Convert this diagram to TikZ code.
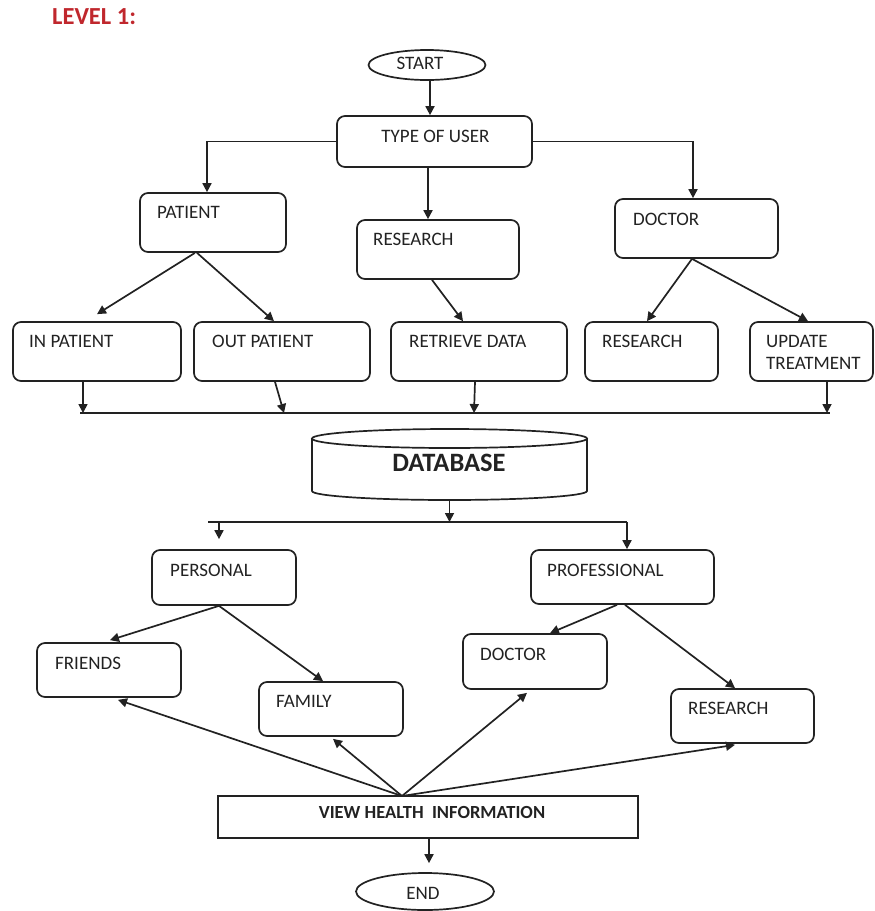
\documentclass[tikz,border=0pt]{standalone}
\usepackage{fontspec}
\setmainfont{Carlito}
\usetikzlibrary{arrows.meta,shapes.geometric}
\definecolor{ink}{HTML}{222222}
\definecolor{lvl}{HTML}{C0272D}
\begin{document}
\begin{tikzpicture}[x=1pt,y=-1pt,
  box/.style={draw=ink, line width=1.7pt, rounded corners=8pt, inner sep=0pt},
  oval/.style={draw=ink, line width=1.7pt, ellipse, inner sep=0pt},
  lbl/.style={text=ink, font=\fontsize{19}{22}\selectfont, inner sep=0pt, anchor=west, align=left},
  arr/.style={draw=ink, line width=1.7pt, -{Triangle[length=9pt,width=9pt]}},
  ln/.style={draw=ink, line width=1.7pt}]
\useasboundingbox (0,0) rectangle (875,911);

% title
\node[font=\bfseries\fontsize{24.5}{28}\selectfont, text=lvl, anchor=west, inner sep=0pt] (level) at (52,16.5) {LEVEL 1:};

% top part
\node[oval, minimum width=117pt, minimum height=30pt] (start) at (427,65) {};
\node[lbl, anchor=center] (startT) at (420,63) {START};
\node[box, minimum width=195pt, minimum height=51pt] (type) at (434.5,141.5) {};
\node[lbl, anchor=center] (typeT) at (435.5,136) {TYPE OF USER};

\node[box, minimum width=146pt, minimum height=59pt] (patient) at (213,222.5) {};
\node[lbl] (patientT) at (157,212.5) {PATIENT};
\node[box, minimum width=162pt, minimum height=59pt] (res1) at (438,249.5) {};
\node[lbl] (res1T) at (373,239) {RESEARCH};
\node[box, minimum width=163pt, minimum height=59pt] (doc1) at (696.5,228.5) {};
\node[lbl] (doc1T) at (633,219) {DOCTOR};

\node[box, minimum width=168pt, minimum height=59pt] (inp) at (97,351.5) {};
\node[lbl] (inpT) at (29,341) {IN PATIENT};
\node[box, minimum width=176pt, minimum height=59pt] (outp) at (282,351.5) {};
\node[lbl] (outpT) at (212,341) {OUT PATIENT};
\node[box, minimum width=176pt, minimum height=59pt] (retr) at (479,351.5) {};
\node[lbl] (retrT) at (409,341) {RETRIEVE DATA};
\node[box, minimum width=133pt, minimum height=59pt] (res2) at (651.5,351.5) {};
\node[lbl] (res2T) at (602,341) {RESEARCH};
\node[box, minimum width=123pt, minimum height=59pt] (upd) at (811.5,351.5) {};
\node[lbl] (updT) at (766,352.5) {UPDATE\\TREATMENT};

% connectors top
\draw[arr] ([xshift=3pt]start.south) -- ([xshift=-4.5pt]type.north);
\draw[arr] (type.west) -| ([xshift=-6pt]patient.north);
\draw[arr] (type.east) -| ([xshift=-3.5pt]doc1.north);
\draw[arr] ([xshift=-6.5pt]type.south) -- ([xshift=-10pt]res1.north);
\draw[arr] ([xshift=-18pt]patient.south) -- ([yshift=7pt]inp.north);
\draw[arr] ([xshift=-16pt]patient.south) -- ([xshift=-8pt]outp.north);
\draw[arr] ([xshift=-6pt]res1.south) -- ([xshift=-16pt]retr.north);
\draw[arr] ([xshift=-4.5pt]doc1.south) -- ([xshift=-4.5pt]res2.north);
\draw[arr] ([xshift=-4.5pt]doc1.south) -- ([xshift=-3.5pt]upd.north);

% bus 1
\coordinate (busL) at (80,413);
\coordinate (busR) at (830,413);
\coordinate (b1) at (83,413);
\coordinate (b2) at (284,413);
\coordinate (b3) at (474,413);
\coordinate (b4) at (827,413);
\draw[ln] (busL) -- (busR);
\draw[arr] ([xshift=-14pt]inp.south) -- (b1);
\draw[arr] ([xshift=-7pt]outp.south) -- (b2);
\draw[arr] ([xshift=-4pt]retr.south) -- (b3);
\draw[arr] ([xshift=15.5pt]upd.south) -- (b4);

% database
\node[inner sep=0pt, minimum width=275pt, minimum height=71pt] (db) at (449.5,464.5) {};
\draw[ln] (312,438.5) -- (312,491) arc[start angle=180, end angle=360, x radius=137.5pt, y radius=9pt] -- (587,438.5);
\draw[ln] (449.5,438.5) ellipse [x radius=137.5pt, y radius=9.5pt];
\node[font=\bfseries\fontsize{26.5}{30}\selectfont, text=ink, inner sep=0pt] (dbT) at (449,463) {DATABASE};

% bus 2
\coordinate (c0) at (449.5,522);
\coordinate (cL) at (208,522);
\coordinate (cR) at (627,522);
\coordinate (cA) at (219,522);
\draw[arr] (db.south) -- (c0);
\draw[ln] (cL) -- (cR);

% lower part
\node[box, minimum width=144pt, minimum height=55pt] (pers) at (224,577.5) {};
\node[lbl] (persT) at (170,570.5) {PERSONAL};
\node[box, minimum width=183pt, minimum height=54pt] (prof) at (622.5,577) {};
\node[lbl] (profT) at (547,570) {PROFESSIONAL};
\node[box, minimum width=144pt, minimum height=54pt] (friends) at (109,670) {};
\node[lbl] (friendsT) at (55,663) {FRIENDS};
\node[box, minimum width=144pt, minimum height=54pt] (family) at (331,709) {};
\node[lbl] (familyT) at (276,701) {FAMILY};
\node[box, minimum width=144pt, minimum height=55pt] (doc2) at (535,661.5) {};
\node[lbl] (doc2T) at (480,654) {DOCTOR};
\node[box, minimum width=143pt, minimum height=54pt] (res3) at (742.5,716) {};
\node[lbl] (res3T) at (688,708) {RESEARCH};

\draw[arr] (cA) -- ([xshift=-5pt,yshift=10pt]pers.north);
\draw[arr] (cR) -- ([xshift=4.5pt]prof.north);

\draw[arr] ([xshift=-5pt]pers.south) -- ([xshift=1pt,yshift=2pt]friends.north);
\draw[arr] ([xshift=-5pt]pers.south) -- ([xshift=-8pt]family.north);
\draw[arr] ([xshift=-5.5pt]prof.south) -- ([xshift=15pt]doc2.north);
\draw[arr] ([xshift=2.5pt]prof.south) -- ([xshift=-7.5pt]res3.north);

% view + end
\node[draw=ink, line width=1.7pt, minimum width=420pt, minimum height=42pt, inner sep=0pt] (view) at (428,817) {};
\node[lbl, anchor=center, font=\bfseries\fontsize{18.5}{22}\selectfont] (viewT) at (432,812) {VIEW~HEALTH~~INFORMATION};
\coordinate (apex) at (402,796);
\draw[arr] (apex) -- ([xshift=9pt,yshift=-2pt]friends.south);
\draw[arr] (apex) -- ([xshift=2pt,yshift=-2pt]family.south);
\draw[arr] (apex) -- ([xshift=-8pt,yshift=-3pt]doc2.south);
\draw[arr] (apex) -- ([xshift=-7.5pt,yshift=-1pt]res3.south);

\node[oval, minimum width=138pt, minimum height=37pt] (end) at (425,891.5) {};
\node[lbl, anchor=center] (endT) at (423,893) {END};
\draw[arr] ([xshift=1pt]view.south) -- ([xshift=4pt,yshift=9pt]end.north);
\end{tikzpicture}
\end{document}
